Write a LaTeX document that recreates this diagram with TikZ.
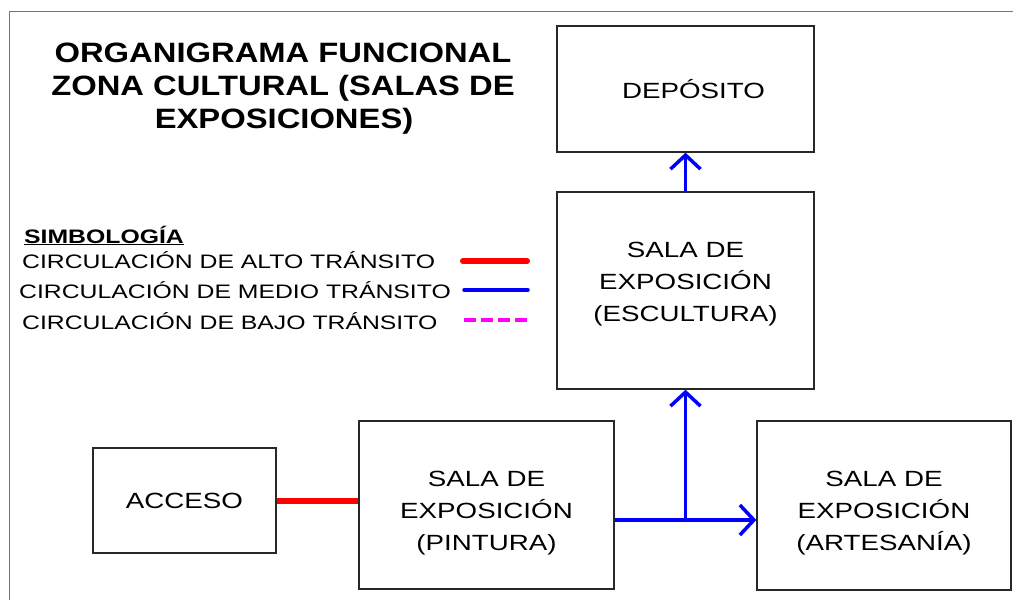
\documentclass[tikz,border=0pt]{standalone}
\usepackage{fontspec}
\usetikzlibrary{arrows.meta}
\newfontfamily\boxfont[FakeStretch=1.26]{Liberation Sans}
\newfontfamily\legfont[FakeStretch=1.27]{Liberation Sans}
\newfontfamily\ttlfont[FakeStretch=1.17]{Liberation Sans}
\newcommand{\boxtext}{\boxfont\fontsize{22}{32}\selectfont}
\newcommand{\legtext}{\legfont\fontsize{19.5}{22}\selectfont}
\newcommand{\ttltext}{\ttlfont\bfseries\fontsize{28}{33}\selectfont}
\definecolor{framegray}{RGB}{115,115,115}
\definecolor{boxline}{RGB}{40,40,40}
\definecolor{legmag}{RGB}{255,0,255}
\begin{document}
\begin{tikzpicture}[x=1pt,y=-1pt,
  box/.style={draw=boxline, line width=1.4pt, rectangle, inner sep=0pt, align=center, font=\boxtext, text=black},
  ttl/.style={anchor=base, inner sep=0pt, font=\ttltext},
  leg/.style={anchor=base west, inner sep=0pt, font=\legtext},
  alto/.style={draw=red, line width=6pt},
  medio/.style={draw=blue, line width=3.5pt},
  bajo/.style={draw=legmag, line width=3.5pt, dash pattern=on 12pt off 5pt},
  barb/.style={-{Straight Barb[length=14pt,width=30pt]}}
]
\useasboundingbox (0,0) rectangle (1013,600);
\fill[white] (0,0) rectangle (1013,600);
% frame
\draw[framegray, line width=1.8pt] (9.5,600) -- (9.5,11.5) -- (1013,11.5);

% title
\node[ttl] (t1) at (283,62) {ORGANIGRAMA FUNCIONAL};
\node[ttl] (t2) at (283,95) {ZONA CULTURAL (SALAS DE};
\node[ttl] (t3) at (284,128) {EXPOSICIONES)};

% legend
\node[anchor=base west, inner sep=0pt, font=\legfont\bfseries\fontsize{19.5}{22}\selectfont] (sim) at (24,243) {\underline{SIMBOLOGÍA}};
\node[leg] (l1) at (22,268) {CIRCULACIÓN DE ALTO TRÁNSITO};
\node[leg] (l2) at (19,298) {CIRCULACIÓN DE MEDIO TRÁNSITO};
\node[leg] (l3) at (22,329) {CIRCULACIÓN DE BAJO TRÁNSITO};
\coordinate (a1) at (463,261); \coordinate (a2) at (527,261);
\coordinate (b1) at (464,290); \coordinate (b2) at (528,290);
\coordinate (c1) at (464,320); \coordinate (c2) at (528,320);
\draw[alto, line cap=round] (a1) -- (a2);
\draw[medio, line cap=round] (b1) -- (b2);
\draw[bajo] (c1) -- (c2);

% boxes
\node[box, minimum width=257pt, minimum height=126pt] (dep) at (685.5,89) {\hspace*{16pt}DEPÓSITO};
\node[box, minimum width=257pt, minimum height=197pt] (esc) at (685.5,290.5) {SALA DE\\EXPOSICIÓN\\(ESCULTURA)\\[-14pt]\mbox{}};
\node[box, minimum width=183pt, minimum height=105pt] (acc) at (184.5,500.5) {ACCESO};
\node[box, minimum width=255pt, minimum height=168pt] (pin) at (486.5,505) {\mbox{}\\[-1pt]SALA DE\\EXPOSICIÓN\\(PINTURA)};
\node[box, minimum width=254pt, minimum height=169pt] (art) at (884,505.5) {\mbox{}\\[-2pt]SALA DE\\EXPOSICIÓN\\(ARTESANÍA)};

% connectors
\draw[alto] (acc.east) -- (acc.east -| pin.west);
\coordinate (pout) at ([yshift=-15pt]pin.east);
\coordinate (jn) at (esc.south |- pout);
\draw[medio, barb] (pout) -- (pout -| art.west);
\draw[medio, barb] (jn) -- (esc.south);
\draw[medio, barb] (esc.north) -- (dep.south);
\end{tikzpicture}
\end{document}
